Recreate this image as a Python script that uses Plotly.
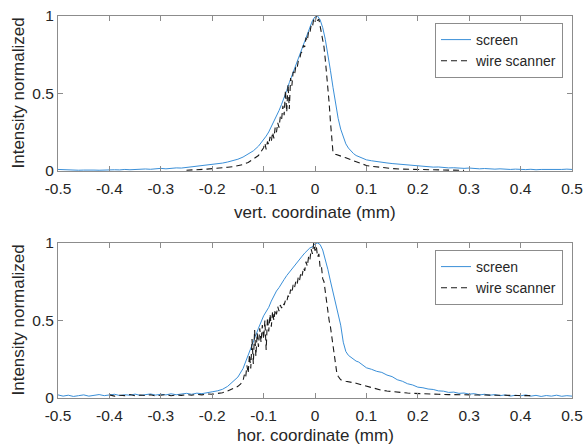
import plotly.graph_objects as go

# ---------------- data ----------------
X_TICKS = [-0.5, -0.4, -0.3, -0.2, -0.1, 0.0, 0.1, 0.2, 0.3, 0.4, 0.5]
X_TICK_LABELS = ["-0.5", "-0.4", "-0.3", "-0.2", "-0.1", "0", "0.1", "0.2", "0.3", "0.4", "0.5"]
Y_TICKS = [0, 0.5, 1]
Y_TICK_LABELS = ["0", "0.5", "1"]

SCREEN_X = [
    -0.50, -0.49, -0.48, -0.47, -0.46, -0.45, -0.44, -0.43, -0.42, -0.41,
    -0.40, -0.39, -0.38, -0.37, -0.36, -0.35, -0.34, -0.33, -0.32, -0.31,
    -0.30, -0.29, -0.28, -0.27, -0.26, -0.25, -0.24, -0.23, -0.22, -0.21,
    -0.20, -0.19, -0.18, -0.17, -0.16, -0.15, -0.14, -0.13, -0.12, -0.11,
    -0.100, -0.095, -0.090, -0.085, -0.080, -0.075, -0.070, -0.065, -0.060, -0.055,
    -0.050, -0.045, -0.040, -0.035, -0.030, -0.025, -0.020, -0.015, -0.010, -0.005,
    0.000, 0.005, 0.010, 0.015, 0.020, 0.025, 0.030, 0.035, 0.040, 0.045,
    0.050, 0.055, 0.060, 0.065, 0.070, 0.075, 0.080, 0.085, 0.090, 0.095, 0.100,
    0.11, 0.12, 0.13, 0.14, 0.15, 0.16, 0.17, 0.18, 0.19, 0.20,
    0.21, 0.22, 0.23, 0.24, 0.25, 0.26, 0.27, 0.28, 0.29, 0.30,
    0.31, 0.32, 0.33, 0.34, 0.35, 0.36, 0.37, 0.38, 0.39, 0.40,
    0.41, 0.42, 0.43, 0.44, 0.45, 0.46, 0.47, 0.48, 0.49, 0.50,
]

SCREEN_VERT = [
    0.010, 0.008, 0.006, 0.007, 0.005, 0.006, 0.004, 0.006, 0.005, 0.007,
    0.006, 0.008, 0.007, 0.010, 0.008, 0.011, 0.010, 0.013, 0.011, 0.015,
    0.017, 0.014, 0.018, 0.020, 0.019, 0.023, 0.025, 0.028, 0.031, 0.035,
    0.040, 0.045, 0.051, 0.058, 0.066, 0.076, 0.090, 0.108, 0.130, 0.160,
    0.200, 0.225, 0.252, 0.285, 0.320, 0.352, 0.390, 0.430, 0.470, 0.520,
    0.570, 0.615, 0.660, 0.705, 0.750, 0.795, 0.845, 0.890, 0.935, 0.970,
    0.995, 1.000, 0.975, 0.925, 0.850, 0.760, 0.650, 0.540, 0.430, 0.340,
    0.270, 0.215, 0.175, 0.148, 0.128, 0.112, 0.100, 0.092, 0.084, 0.078, 0.072,
    0.066, 0.060, 0.057, 0.052, 0.048, 0.045, 0.040, 0.038, 0.034, 0.032,
    0.030, 0.027, 0.025, 0.026, 0.022, 0.020, 0.021, 0.018, 0.017, 0.019,
    0.015, 0.014, 0.016, 0.013, 0.012, 0.014, 0.011, 0.010, 0.012, 0.010,
    0.009, 0.011, 0.008, 0.010, 0.009, 0.011, 0.008, 0.010, 0.012, 0.010,
]

SCREEN_HOR = [
    0.020, 0.012, 0.018, 0.010, 0.015, 0.020, 0.012, 0.017, 0.022, 0.015,
    0.019, 0.024, 0.016, 0.021, 0.018, 0.025, 0.017, 0.022, 0.026, 0.019,
    0.024, 0.020, 0.027, 0.021, 0.025, 0.030, 0.024, 0.031, 0.028, 0.036,
    0.040, 0.046, 0.056, 0.075, 0.105, 0.135, 0.190, 0.280, 0.370, 0.450,
    0.530, 0.555, 0.585, 0.625, 0.660, 0.690, 0.712, 0.735, 0.765, 0.790,
    0.812, 0.835, 0.855, 0.872, 0.900, 0.915, 0.935, 0.950, 0.968, 0.975,
    0.995, 1.000, 0.990, 0.955, 0.895, 0.830, 0.755, 0.680, 0.610, 0.540,
    0.470, 0.360, 0.300, 0.275, 0.262, 0.248, 0.238, 0.232, 0.220, 0.212, 0.195,
    0.185, 0.172, 0.165, 0.148, 0.138, 0.118, 0.108, 0.092, 0.084, 0.070,
    0.066, 0.058, 0.055, 0.046, 0.044, 0.036, 0.038, 0.030, 0.032, 0.025,
    0.028, 0.020, 0.024, 0.018, 0.022, 0.015, 0.020, 0.012, 0.018, 0.014,
    0.020, 0.012, 0.017, 0.010, 0.016, 0.012, 0.018, 0.011, 0.015, 0.012,
]

WIRE_VERT_X = [
    -0.25, -0.24, -0.23, -0.22, -0.21, -0.20, -0.19, -0.18, -0.17, -0.16,
    -0.15, -0.14, -0.13, -0.12, -0.11, -0.105,
    -0.1000, -0.0975, -0.0950, -0.0925, -0.0900, -0.0875, -0.0850, -0.0825, -0.0800, -0.0775,
    -0.0750, -0.0725, -0.0700, -0.0675, -0.0650, -0.0625, -0.0600, -0.0575, -0.0550, -0.0525,
    -0.0500, -0.0475, -0.0450, -0.0425, -0.0400, -0.0375, -0.0350, -0.0325, -0.0300, -0.0275,
    -0.0250, -0.0225, -0.0200, -0.0175, -0.0150, -0.0125, -0.0100, -0.0075, -0.0050, -0.0025,
    0.0000, 0.0025, 0.0050, 0.0075, 0.0100, 0.0125, 0.0150, 0.0175, 0.0200, 0.0225,
    0.0250, 0.0275, 0.0300, 0.0325, 0.0350,
    0.04, 0.05, 0.06, 0.07, 0.08, 0.09, 0.10, 0.11, 0.12, 0.13, 0.14, 0.15,
    0.17, 0.19, 0.21, 0.23, 0.25, 0.27, 0.29,
]

WIRE_VERT = [
    0.005, 0.006, 0.008, 0.010, 0.012, 0.015, 0.017, 0.020, 0.024, 0.028,
    0.034, 0.042, 0.055, 0.075, 0.100, 0.125,
    0.15, 0.18, 0.14, 0.19, 0.17, 0.22, 0.19, 0.25, 0.21, 0.28,
    0.25, 0.31, 0.28, 0.35, 0.33, 0.42, 0.36, 0.52, 0.38, 0.56,
    0.40, 0.60, 0.55, 0.64, 0.62, 0.67, 0.66, 0.71, 0.72, 0.76,
    0.77, 0.81, 0.80, 0.86, 0.84, 0.90, 0.89, 0.94, 0.93, 0.98,
    0.96, 1.00, 0.97, 0.98, 0.93, 0.90, 0.84, 0.80, 0.72, 0.64,
    0.55, 0.44, 0.32, 0.20, 0.12,
    0.108, 0.098, 0.085, 0.072, 0.060, 0.046, 0.036, 0.030, 0.026, 0.022, 0.019, 0.016,
    0.012, 0.010, 0.008, 0.007, 0.006, 0.005, 0.004,
]

WIRE_HOR_X = [
    -0.40, -0.39, -0.38, -0.37, -0.36, -0.35, -0.34, -0.33, -0.32, -0.31,
    -0.30, -0.29, -0.28, -0.27, -0.26, -0.25, -0.24, -0.23, -0.22, -0.21,
    -0.20, -0.19, -0.18, -0.17, -0.16, -0.15, -0.145,
    -0.1400, -0.1375, -0.1350, -0.1325, -0.1300, -0.1275, -0.1250, -0.1225, -0.1200, -0.1175,
    -0.1150, -0.1125, -0.1100, -0.1075, -0.1050, -0.1025, -0.1000, -0.0975, -0.0950, -0.0925,
    -0.0900, -0.0875, -0.0850, -0.0825, -0.0800, -0.0775, -0.0750, -0.0725, -0.0700, -0.0675,
    -0.0650, -0.0625, -0.0600, -0.0575, -0.0550, -0.0525, -0.0500, -0.0475, -0.0450, -0.0425,
    -0.0400, -0.0375, -0.0350, -0.0325, -0.0300, -0.0275, -0.0250, -0.0225, -0.0200, -0.0175,
    -0.0150, -0.0125, -0.0100, -0.0075, -0.0050, -0.0025,
    0.0000, 0.0025, 0.0050, 0.0075, 0.0100, 0.0125, 0.0150, 0.0175, 0.0200, 0.0225,
    0.0250, 0.0275, 0.0300, 0.0325, 0.0350, 0.0375, 0.0400, 0.0425, 0.0450, 0.0475, 0.0500,
    0.06, 0.07, 0.08, 0.09, 0.10, 0.11, 0.12, 0.13, 0.14, 0.15, 0.16, 0.17, 0.18, 0.19, 0.20,
    0.22, 0.24, 0.26, 0.28, 0.30, 0.32, 0.34, 0.36, 0.38, 0.40, 0.42,
]

WIRE_HOR = [
    0.020, 0.012, 0.018, 0.015, 0.022, 0.014, 0.019, 0.016, 0.021, 0.013,
    0.018, 0.022, 0.015, 0.020, 0.017, 0.022, 0.018, 0.024, 0.020, 0.026,
    0.024, 0.030, 0.034, 0.045, 0.060, 0.075, 0.090,
    0.11, 0.15, 0.13, 0.21, 0.16, 0.28, 0.19, 0.38, 0.22, 0.44,
    0.27, 0.42, 0.33, 0.45, 0.36, 0.47, 0.38, 0.50, 0.31, 0.52,
    0.43, 0.54, 0.46, 0.56, 0.50, 0.57, 0.54, 0.59, 0.56, 0.60,
    0.58, 0.61, 0.60, 0.63, 0.62, 0.66, 0.65, 0.70, 0.68, 0.73,
    0.71, 0.75, 0.73, 0.78, 0.76, 0.81, 0.79, 0.84, 0.82, 0.88,
    0.85, 0.91, 0.89, 0.96, 0.93, 1.00,
    0.95, 0.98, 0.91, 0.93, 0.84, 0.85, 0.77, 0.75, 0.68, 0.63,
    0.57, 0.50, 0.46, 0.40, 0.32, 0.25, 0.20, 0.16, 0.14, 0.125, 0.118,
    0.108, 0.102, 0.095, 0.085, 0.075, 0.066, 0.058, 0.050, 0.045, 0.041, 0.038, 0.035, 0.032, 0.030, 0.028,
    0.026, 0.024, 0.022, 0.021, 0.020, 0.019, 0.018, 0.017, 0.016, 0.016, 0.015,
]

assert len(SCREEN_X) == len(SCREEN_VERT) == len(SCREEN_HOR)
assert len(WIRE_VERT_X) == len(WIRE_VERT)
assert len(WIRE_HOR_X) == len(WIRE_HOR)

# ---------------- style ----------------
W, H = 585, 445
BLUE = "#3a8fd8"
DARK = "#1a1a1a"
AX = "#8c8c8c"
TXT = "#262626"
FONT = "Liberation Sans, Arial, sans-serif"

fig = go.Figure()
fig.add_trace(go.Scatter(x=SCREEN_X, y=SCREEN_VERT, mode="lines", name="screen",
                         line=dict(color=BLUE, width=1), xaxis="x", yaxis="y", legend="legend"))
fig.add_trace(go.Scatter(x=WIRE_VERT_X, y=WIRE_VERT, mode="lines", name="wire scanner",
                         line=dict(color=DARK, width=1.1, dash="6px,4px"), xaxis="x", yaxis="y", legend="legend"))
fig.add_trace(go.Scatter(x=SCREEN_X, y=SCREEN_HOR, mode="lines", name="screen",
                         line=dict(color=BLUE, width=1), xaxis="x2", yaxis="y2", legend="legend2"))
fig.add_trace(go.Scatter(x=WIRE_HOR_X, y=WIRE_HOR, mode="lines", name="wire scanner",
                         line=dict(color=DARK, width=1.1, dash="6px,4px"), xaxis="x2", yaxis="y2", legend="legend2"))

xdom = [58 / W, 572 / W]
ydom_top = [1 - 171 / H, 1 - 16 / H]
ydom_bot = [1 - 398 / H, 1 - 243 / H]

def xax(anchor):
    return dict(domain=xdom, range=[-0.5, 0.5], tickvals=X_TICKS, ticktext=X_TICK_LABELS,
                ticks="inside", ticklen=5, tickcolor=AX, tickwidth=1,
                showline=True, linecolor=AX, linewidth=1, mirror="ticks",
                showgrid=False, zeroline=False, anchor=anchor, automargin=False,
                ticklabelstandoff=3,
                tickfont=dict(size=15.5, color=TXT, family=FONT))

def yax(dom, anchor):
    return dict(domain=dom, range=[0, 1], tickvals=Y_TICKS, ticktext=Y_TICK_LABELS,
                ticks="inside", ticklen=5, tickcolor=AX, tickwidth=1,
                showline=True, linecolor=AX, linewidth=1, mirror="ticks",
                showgrid=False, zeroline=False, anchor=anchor, automargin=False,
                tickfont=dict(size=15.5, color=TXT, family=FONT))

def leg(ytop):
    return dict(x=563 / W, y=ytop, xanchor="right", yanchor="top",
                bgcolor="white", bordercolor=AX, borderwidth=1,
                font=dict(size=14, color=TXT, family=FONT), tracegroupgap=0)

fig.update_layout(
    width=W, height=H, margin=dict(l=0, r=0, t=0, b=0),
    paper_bgcolor="white", plot_bgcolor="white",
    font=dict(family=FONT, color=TXT),
    xaxis=xax("y"), yaxis=yax(ydom_top, "x"),
    xaxis2=xax("y2"), yaxis2=yax(ydom_bot, "x2"),
    legend=leg(1 - 23 / H), legend2=leg(1 - 250 / H),
    showlegend=True,
)

annots = [
    dict(text="vert. coordinate (mm)", x=315 / W, y=1 - 212 / H),
    dict(text="hor. coordinate (mm)", x=315 / W, y=1 - 435 / H),
]
for a in annots:
    fig.add_annotation(text=a["text"], x=a["x"], y=a["y"], xref="paper", yref="paper",
                       xanchor="center", yanchor="middle", showarrow=False,
                       font=dict(size=17, color=TXT, family=FONT))
for yc in [1 - 93.5 / H, 1 - 320.5 / H]:
    fig.add_annotation(text="Intensity normalized", x=18 / W, y=yc, xref="paper", yref="paper",
                       xanchor="center", yanchor="middle", textangle=-90, showarrow=False,
                       font=dict(size=17, color=TXT, family=FONT))

fig.write_html(
    "out.html",
    config={"displayModeBar": False},
    post_script="document.body.style.margin='0';document.body.style.padding='0';"
                "document.documentElement.style.overflow='hidden';",
)
